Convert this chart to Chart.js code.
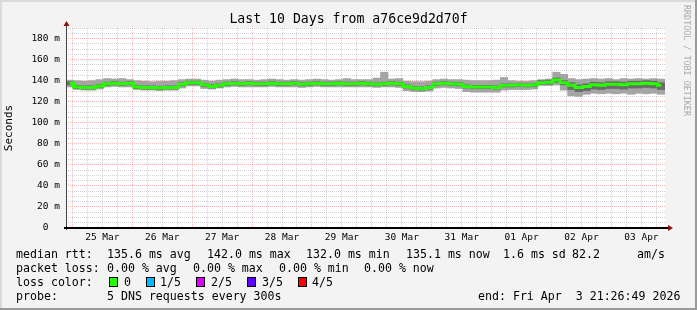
<!DOCTYPE html>
<html>
<head>
<meta charset="utf-8">
<script src="https://cdn.jsdelivr.net/npm/chart.js@4/dist/chart.umd.min.js"></script>
<style>
	html, body { margin: 0; padding: 0; background: #fff; }
	#wrap { position: relative; width: 697px; height: 310px; background: #f3f3f3; overflow: hidden;
		font-family: 'DejaVu Sans Mono', monospace; color: #000; }
	#wrap canvas { position: absolute; left: 0; top: 0; }
	#frame { position: absolute; left: 0; top: 0; width: 697px; height: 310px; pointer-events: none;
		box-shadow: inset -2px -2px 0 #9a9a9a, inset 2px 2px 0 #dadada; }
	.t { position: absolute; white-space: pre; font-size: 11.6px; line-height: 14px; }
	.title { position: absolute; left: 0; top: 11px; width: 697px; text-align: center; font-size: 13.2px; line-height: 16px; }
	.sw { position: absolute; width: 7px; height: 8px; border: 1px solid #000; }
	.side { position: absolute; left: 682px; top: 5px; writing-mode: vertical-rl; font-size: 8.4px;
		color: #aaa; white-space: pre; line-height: 10px; }
</style>
</head>
<body>
<div id="wrap">
	<canvas id="smoke" width="697" height="310"></canvas>
	<div class="title">Last 10 Days from a76ce9d2d70f</div>
	<div class="side">RRDTOOL / TOBI OETIKER</div>

	<div class="t" style="left:16px;top:247px">median rtt:</div>
	<div class="t" style="left:107px;top:247px">135.6 ms avg</div>
	<div class="t" style="left:207px;top:247px">142.0 ms max</div>
	<div class="t" style="left:306px;top:247px">132.0 ms min</div>
	<div class="t" style="left:406px;top:247px">135.1 ms now</div>
	<div class="t" style="left:503px;top:247px">1.6 ms sd</div>
	<div class="t" style="left:572px;top:247px">82.2</div>
	<div class="t" style="left:637px;top:247px">am/s</div>

	<div class="t" style="left:16px;top:261px">packet loss:</div>
	<div class="t" style="left:107px;top:261px">0.00 % avg</div>
	<div class="t" style="left:193px;top:261px">0.00 % max</div>
	<div class="t" style="left:279px;top:261px">0.00 % min</div>
	<div class="t" style="left:364px;top:261px">0.00 % now</div>

	<div class="t" style="left:16px;top:275px">loss color:</div>
	<div class="sw" style="left:109px;top:277px;background:#26ff00"></div>
	<div class="t" style="left:124px;top:275px">0</div>
	<div class="sw" style="left:146px;top:277px;background:#00b8ff"></div>
	<div class="t" style="left:160px;top:275px">1/5</div>
	<div class="sw" style="left:196px;top:277px;background:#dd00ff"></div>
	<div class="t" style="left:211px;top:275px">2/5</div>
	<div class="sw" style="left:247px;top:277px;background:#5e00ff"></div>
	<div class="t" style="left:262px;top:275px">3/5</div>
	<div class="sw" style="left:298px;top:277px;background:#ff0000"></div>
	<div class="t" style="left:312px;top:275px">4/5</div>

	<div class="t" style="left:16px;top:289px">probe:</div>
	<div class="t" style="left:107px;top:289px">5 DNS requests every 300s</div>
	<div class="t" style="left:478px;top:289px">end: Fri Apr  3 21:26:49 2026</div>
	<div id="frame"></div>
</div>
<script>
// one value per 3 hours, starting Tue Mar 24 21:26:49 (240 h window)
const stepHours = 3
const firstMidnight = 2 + 33 / 60 + 11 / 3600 // hours from start to 25 Mar 00:00
const dayLabels = ['25 Mar', '26 Mar', '27 Mar', '28 Mar', '29 Mar', '30 Mar', '31 Mar', '01 Apr', '02 Apr', '03 Apr']

const median = [
	137.5, 134, 133.5, 133.5, 135, 137, 137.5, 137, 137.5, 134,
	133.5, 133.5, 133, 133.5, 133.5, 136.5, 138, 138, 136, 134.5,
	135.5, 137, 137.5, 137, 137.5, 137, 137, 137.5, 137, 137,
	137.5, 136.5, 137, 137.5, 137, 137, 137.5, 137, 137, 137.5,
	137, 136.5, 137, 137.5, 137, 134.5, 133, 132.5, 133.5, 137,
	137.5, 137, 136.5, 134.5, 134, 134, 134, 133.5, 135.5, 135.5,
	136, 135.5, 136, 138, 138.5, 140.5, 138, 135.5, 133.5, 134.5,
	136, 135.5, 136.5, 136.5, 136, 137, 137, 137.5, 137, 135.5
]
const smokeHi = [
	140.5, 140, 139.5, 140, 141, 142, 141.5, 142, 141, 140,
	139.5, 139, 139.5, 139.5, 140, 141, 141.5, 141.5, 140.5, 139.5,
	140.5, 141, 141.5, 141, 141, 140.5, 141, 141.5, 141, 140.5,
	141, 140.5, 141, 141.5, 141, 140.5, 141, 142, 141, 141,
	141, 142.5, 148, 141.5, 142, 139.5, 139, 139, 139.5, 141,
	141.5, 141, 141, 140.5, 140, 140, 140, 140.5, 143, 140,
	139.5, 139.5, 140, 141, 141.5, 148, 146, 142, 141, 141.5,
	142, 141.5, 142, 141, 142, 141.5, 142, 141.5, 142, 141.5
]
const smokeLo = [
	134, 131.5, 131, 131, 132, 134, 134.5, 134, 134, 131.5,
	131, 131, 130.5, 131, 131, 133, 135, 135, 132.5, 132,
	133, 134, 134.5, 134, 134, 134, 134, 134.5, 134, 134,
	134, 133.5, 134, 134.5, 134, 134, 134, 134, 134, 134,
	134, 133.5, 134, 134, 133.5, 130.5, 129.5, 129.5, 130, 133,
	133.5, 133, 132.5, 129.5, 129, 129, 129, 129, 131, 131.5,
	131.5, 131.5, 132, 135.5, 135.5, 136, 131, 125.5, 125, 127,
	128, 127.5, 128, 127.5, 128, 127, 128, 127.5, 128, 127
]
const coreHi = [
	139, 135.5, 135, 135, 136.5, 138.5, 139, 138.5, 139, 135.5,
	135, 135, 134.5, 135, 135, 138, 139.5, 139.5, 137.5, 136,
	137, 138.5, 139, 138.5, 139, 138.5, 138.5, 139, 138.5, 138.5,
	139, 138, 138.5, 139, 138.5, 138.5, 139, 138.5, 138.5, 139,
	138.5, 138, 138.5, 139, 138.5, 136, 134.5, 134, 135, 138.5,
	139, 138.5, 138, 136, 135.5, 135.5, 135.5, 135, 137, 137,
	137.5, 137, 137.5, 140, 140.5, 142.5, 140, 138, 136, 137,
	138.5, 138, 139, 139, 138.5, 139.5, 139.5, 140, 139.5, 138
]
const coreLo = [
	136, 132.5, 132, 132, 133.5, 135.5, 136, 135.5, 136, 132.5,
	132, 132, 131.5, 132, 132, 135, 136.5, 136.5, 134.5, 133,
	134, 135.5, 136, 135.5, 136, 135.5, 135.5, 136, 135.5, 135.5,
	136, 135, 135.5, 136, 135.5, 135.5, 136, 135.5, 135.5, 136,
	135.5, 135, 135.5, 136, 135.5, 133, 131.5, 131, 132, 135.5,
	136, 135.5, 135, 133, 132.5, 132.5, 132.5, 132, 134, 134,
	134.5, 134, 134.5, 136.5, 136.5, 138.5, 136, 131.5, 129.5, 130.5,
	132, 131.5, 132.5, 132.5, 132, 133, 133, 133.5, 133, 131.5
]

const hourOf = (i) => i * stepHours + stepHours / 2
const linePts = (arr) => arr.map((v, i) => ({ x: hourOf(i), y: v }))
const barPts = (lo, hi) => lo.map((v, i) => ({ x: hourOf(i), y: [v, hi[i]] }))

const MONO = 'DejaVu Sans Mono'
const MAJOR = 'rgba(255, 0, 0, 0.28)'
const MINOR = 'rgba(130, 130, 130, 0.35)'

const canvasBits = {
	id: 'canvasBits',
	beforeDraw(chart) {
		const { ctx, chartArea: a } = chart
		ctx.save()
		ctx.fillStyle = '#ffffff'
		ctx.fillRect(a.left, a.top, a.right - a.left, a.bottom - a.top)
		ctx.restore()
	},
	afterDraw(chart) {
		const { ctx, chartArea: a } = chart
		ctx.save()
		// y axis + arrow
		ctx.strokeStyle = '#444'
		ctx.lineWidth = 1
		ctx.beginPath()
		ctx.moveTo(a.left + 0.5, a.bottom + 2)
		ctx.lineTo(a.left + 0.5, a.top - 3)
		ctx.stroke()
		// x axis + arrow
		ctx.strokeStyle = '#000'
		ctx.lineWidth = 2
		ctx.beginPath()
		ctx.moveTo(a.left - 2, a.bottom)
		ctx.lineTo(a.right + 3, a.bottom)
		ctx.stroke()
		ctx.fillStyle = '#8b1010'
		ctx.beginPath()
		ctx.moveTo(a.left + 0.5, a.top - 7)
		ctx.lineTo(a.left - 2.5, a.top - 2)
		ctx.lineTo(a.left + 3.5, a.top - 2)
		ctx.closePath()
		ctx.fill()
		ctx.beginPath()
		ctx.moveTo(a.right + 8, a.bottom)
		ctx.lineTo(a.right + 3, a.bottom - 3)
		ctx.lineTo(a.right + 3, a.bottom + 3)
		ctx.closePath()
		ctx.fill()
		ctx.restore()
	}
}

new Chart(document.getElementById('smoke'), {
	type: 'bar',
	data: {
		datasets: [
			{
				type: 'line',
				label: 'median rtt',
				data: linePts(median),
				borderColor: '#26ff00',
				borderWidth: 3,
				pointRadius: 0,
				stepped: 'middle',
				order: 0,
			},
			{
				type: 'bar',
				label: 'core',
				data: barPts(coreLo, coreHi),
				backgroundColor: '#6b6b6b',
				grouped: false,
				barPercentage: 1,
				categoryPercentage: 1,
				order: 1,
			},
			{
				type: 'bar',
				label: 'smoke',
				data: barPts(smokeLo, smokeHi),
				backgroundColor: '#a4a4a4',
				grouped: false,
				barPercentage: 1,
				categoryPercentage: 1,
				order: 2,
			},
		],
	},
	options: {
		responsive: false,
		animation: false,
		layout: { padding: { left: 0, top: 28, right: 32, bottom: 0 } },
		plugins: {
			legend: { display: false },
			title: { display: false },
			tooltip: { enabled: false },
		},
		scales: {
			x: {
				type: 'linear',
				min: 0,
				max: 240,
				offset: false,
				afterFit(scale) { scale.height = 82 },
				afterBuildTicks(scale) {
					const ticks = []
					for (let k = 0; firstMidnight + k * 6 <= 240; k++) ticks.push({ value: firstMidnight + k * 6 })
					scale.ticks = ticks
				},
				grid: {
					offset: false,
					drawTicks: false,
					lineWidth: 1,
					color: (c) => (c.index % 4 === 0 ? MAJOR : MINOR),
				},
				border: { display: false, dash: [1, 1] },
				ticks: {
					autoSkip: false,
					maxRotation: 0,
					padding: 4,
					color: '#000',
					font: { family: MONO, size: 9.5 },
					callback: (v, i) => (i % 4 === 2 ? dayLabels[Math.floor(i / 4)] : ''),
				},
			},
			y: {
				min: 0,
				max: 190,
				afterFit(scale) { scale.width = 66 },
				grid: {
					drawTicks: false,
					lineWidth: 1,
					color: (c) => (c.tick && c.tick.value % 20 === 0 ? MAJOR : MINOR),
				},
				border: { display: false, dash: [1, 1] },
				title: {
					display: true,
					text: 'Seconds',
					color: '#000',
					padding: { top: 3, bottom: 0 },
					font: { family: MONO, size: 11 },
				},
				ticks: {
					stepSize: 5,
					autoSkip: false,
					padding: 6,
					color: '#000',
					font: { family: MONO, size: 9.5 },
					callback: (v) => (v % 20 === 0 ? (v === 0 ? '0  ' : v + ' m') : ''),
				},
			},
		},
	},
	plugins: [canvasBits],
})
</script>
</body>
</html>
